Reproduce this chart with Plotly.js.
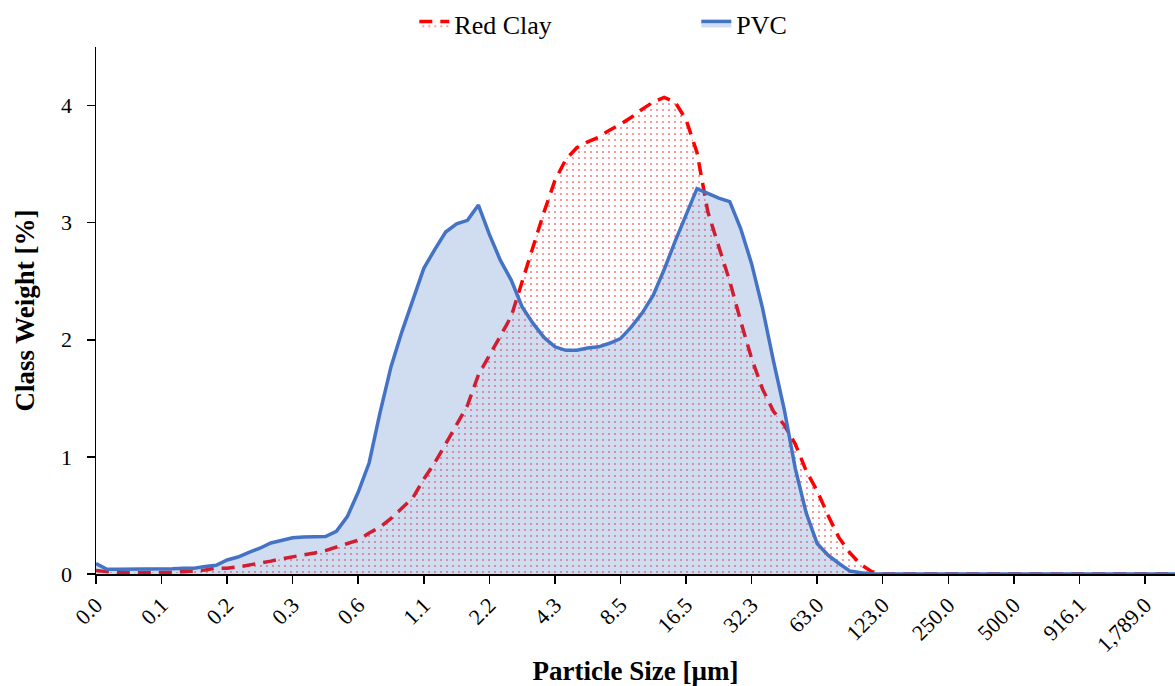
<!DOCTYPE html>
<html>
<head>
<meta charset="utf-8">
<script src="https://cdn.plot.ly/plotly-3.0.1.min.js"></script>
<style>
  html, body { margin: 0; padding: 0; background: #ffffff; }
  #chart { width: 1175px; height: 686px; }
</style>
</head>
<body>
<div id="chart"></div>
<script>
// Tick labels (one every 6 size classes) - particle size in µm
const sizeLabels = ['0.0','0.1','0.2','0.3','0.6','1.1','2.2','4.3','8.5','16.5','32.3','63.0','123.0','250.0','500.0','916.1','1,789.0'];
const classesPerLabel = 6;

// Class weight [%] per size class (100 classes)
const pvc = [
  0.09, 0.04, 0.04, 0.04, 0.04, 0.04, 0.04, 0.045, 0.05, 0.05,
  0.065, 0.075, 0.12, 0.145, 0.185, 0.22, 0.265, 0.29, 0.31, 0.315,
  0.315, 0.32, 0.365, 0.49, 0.70, 0.95, 1.38, 1.77, 2.07, 2.35,
  2.61, 2.77, 2.92, 2.99, 3.02, 3.15, 2.90, 2.68, 2.51, 2.28,
  2.14, 2.02, 1.94, 1.91, 1.91, 1.93, 1.94, 1.97, 2.01, 2.11,
  2.23, 2.38, 2.60, 2.84, 3.07, 3.29, 3.25, 3.21, 3.18, 2.95,
  2.65, 2.27, 1.82, 1.40, 0.90, 0.52, 0.26, 0.16, 0.09, 0.025,
  0.01, 0, 0, 0, 0, 0, 0, 0, 0, 0,
  0, 0, 0, 0, 0, 0, 0, 0, 0, 0,
  0, 0, 0, 0, 0, 0, 0, 0, 0, 0
];

const redClay = [
  0.03, 0.02, 0.01, 0.01, 0.01, 0.01, 0.01, 0.015, 0.02, 0.025,
  0.035, 0.05, 0.05, 0.06, 0.075, 0.095, 0.11, 0.13, 0.145, 0.16,
  0.18, 0.20, 0.23, 0.255, 0.29, 0.35, 0.40, 0.475, 0.56, 0.65,
  0.81, 0.95, 1.11, 1.28, 1.44, 1.70, 1.86, 2.03, 2.20, 2.50,
  2.78, 3.09, 3.36, 3.54, 3.64, 3.69, 3.73, 3.79, 3.84, 3.90,
  3.97, 4.03, 4.07, 4.03, 3.88, 3.60, 3.09, 2.79, 2.50, 2.16,
  1.84, 1.58, 1.39, 1.27, 1.11, 0.88, 0.71, 0.50, 0.31, 0.18,
  0.08, 0.02, 0, 0, 0, 0, 0, 0, 0, 0,
  0, 0, 0, 0, 0, 0, 0, 0, 0, 0,
  0, 0, 0, 0, 0, 0, 0, 0, 0, 0
];

const classIndex = pvc.map((_, i) => i);
const tickPositions = sizeLabels.map((_, k) => k * classesPerLabel);

const FONT = 'Liberation Serif, "Times New Roman", Times, serif';

const traces = [
  {
    name: 'Red Clay',
    x: classIndex,
    y: redClay,
    type: 'scatter',
    mode: 'lines',
    line: { color: '#FF0000', width: 3.5, dash: '13px,8px' },
    fill: 'tozeroy',
    fillcolor: 'rgba(0,0,0,0)',
    fillpattern: { shape: '.', fgcolor: '#FF0000', bgcolor: 'rgba(0,0,0,0)', size: 6, solidity: 0.05 },
    hoverinfo: 'x+y'
  },
  {
    name: 'PVC',
    x: classIndex,
    y: pvc,
    type: 'scatter',
    mode: 'lines',
    line: { color: '#4472C4', width: 3.5 },
    fill: 'tozeroy',
    fillcolor: 'rgba(68,114,196,0.25)',
    hoverinfo: 'x+y'
  }
];

const layout = {
  width: 1175,
  height: 686,
  margin: { l: 96, r: 0, t: 44, b: 112 },
  paper_bgcolor: '#ffffff',
  plot_bgcolor: '#ffffff',
  font: { family: FONT, color: '#000000', size: 22 },
  showlegend: true,
  legend: {
    orientation: 'h',
    x: 0.295, xanchor: 'left',
    yref: 'container',
    y: 1.0, yanchor: 'top',
    font: { family: FONT, size: 26, color: '#000000' },
    entrywidth: 237,
    entrywidthmode: 'pixels',
    itemwidth: 30,
    bgcolor: 'rgba(0,0,0,0)'
  },
  xaxis: {
    range: [0, 98.75],
    tickmode: 'array',
    tickvals: tickPositions,
    ticktext: sizeLabels,
    tickangle: -45,
    tickfont: { family: FONT, size: 22, color: '#000000' },
    ticks: 'outside',
    ticklen: 8,
    tickwidth: 1.5,
    tickcolor: '#000000',
    showline: true,
    linecolor: '#000000',
    linewidth: 1.5,
    showgrid: false,
    zeroline: false,
    automargin: false,
    title: { text: 'Particle Size [µm]', font: { family: FONT, size: 27, color: '#000000', weight: 'bold' }, standoff: 8 }
  },
  yaxis: {
    range: [0, 4.5],
    tickmode: 'array',
    tickvals: [0, 1, 2, 3, 4],
    tickfont: { family: FONT, size: 22, color: '#000000' },
    ticks: 'outside',
    ticklen: 8,
    tickwidth: 1.5,
    tickcolor: '#000000',
    ticklabelstandoff: 10,
    showline: true,
    linecolor: '#000000',
    linewidth: 1.5,
    showgrid: false,
    zeroline: false,
    automargin: false,
    title: { text: 'Class Weight [%]', font: { family: FONT, size: 27, color: '#000000', weight: 'bold' }, standoff: 18 }
  }
};

Plotly.newPlot('chart', traces, layout, { displayModeBar: false, staticPlot: true });
</script>
</body>
</html>
